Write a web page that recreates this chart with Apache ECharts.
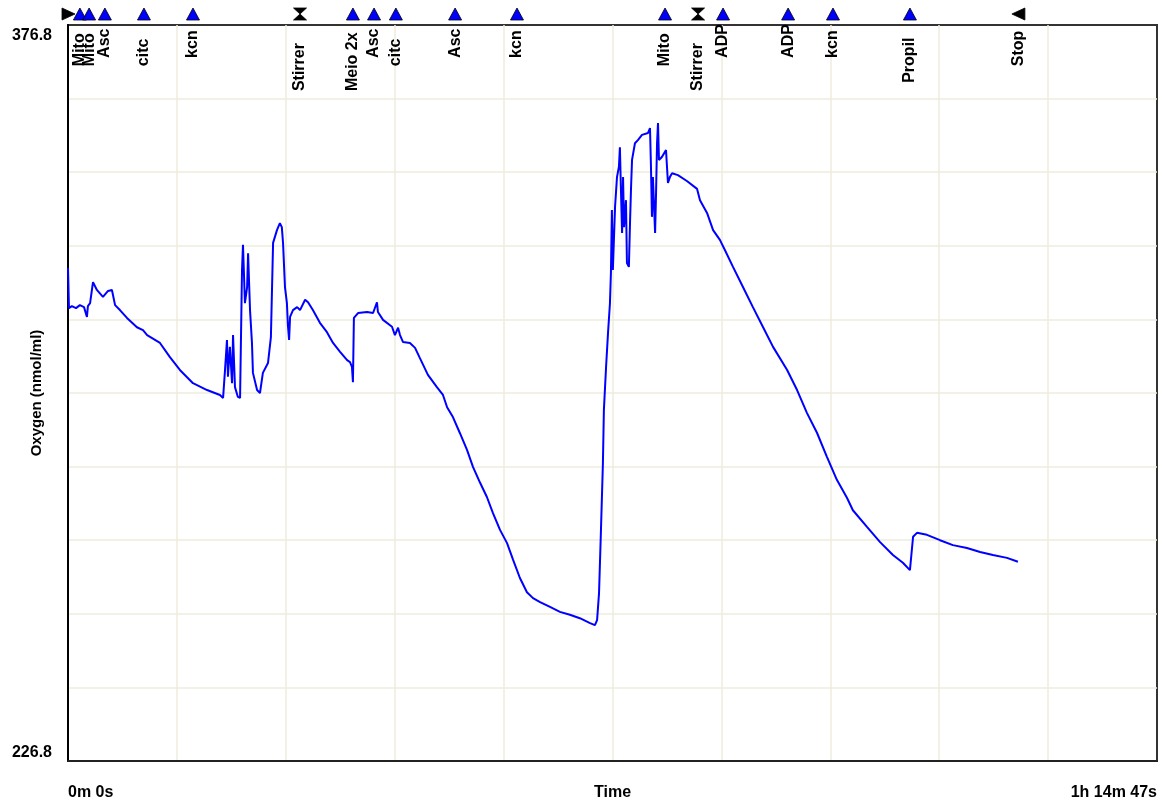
<!DOCTYPE html>
<html>
<head>
<meta charset="utf-8">
<script src="https://cdn.jsdelivr.net/npm/echarts@6/dist/echarts.min.js"></script>
<style>
html,body{margin:0;padding:0;background:#fff;}
#chart{width:1167px;height:807px;}
</style>
</head>
<body>
<div id="chart"></div>
<script>
// ---- data (time in seconds, oxygen in nmol/ml) ----
const timeSec = [0,4,16,33,49,66,78,82,91,103,119,144,165,181,194,214,243,284,309,326,379,420,461,515,573,626,639,647,655,659,667,676,680,688,700,709,717,721,729,738,742,750,758,762,779,791,803,824,836,845,861,873,881,886,894,902,906,911,915,927,944,956,977,989,1009,1038,1067,1092,1121,1150,1162,1170,1174,1178,1195,1232,1257,1273,1277,1298,1335,1347,1360,1368,1380,1409,1430,1450,1483,1520,1545,1562,1586,1615,1644,1669,1698,1726,1751,1780,1809,1834,1862,1891,1916,1945,1986,2027,2068,2109,2151,2171,2180,2188,2196,2204,2208,2217,2225,2233,2237,2241,2245,2254,2262,2270,2274,2278,2283,2287,2291,2299,2303,2311,2316,2320,2324,2336,2349,2365,2390,2398,2402,2406,2410,2419,2423,2427,2431,2435,2447,2464,2468,2472,2480,2489,2513,2550,2592,2604,2633,2658,2686,2707,2740,2781,2822,2864,2905,2963,3004,3045,3086,3127,3168,3210,3234,3292,3346,3399,3440,3469,3473,3482,3498,3539,3593,3646,3704,3758,3811,3869,3914];
const oxygen = [327.3,319.1,319.5,319.1,319.7,319.3,317.3,319.5,320.1,324.4,322.8,321.4,322.6,322.8,319.7,318.7,317.1,315.2,314.6,313.6,312.0,309.1,306.5,303.8,302.4,301.4,300.8,306.5,312.6,305.1,311.2,303.8,313.6,303.0,301.0,300.8,326.9,332.0,320.1,323.4,330.3,318.7,312.0,305.9,302.4,301.8,305.9,307.9,313.2,332.4,335.0,336.4,335.6,332.4,323.4,320.1,315.7,312.6,317.3,318.7,319.3,318.7,320.8,320.3,318.7,316.1,314.2,312.0,310.2,308.5,308.1,307.1,304.0,317.1,318.1,318.3,318.1,320.3,318.3,316.7,315.3,313.6,315.1,313.6,312.2,312.0,311.0,308.9,305.5,303.0,301.4,298.9,296.9,293.6,290.2,286.7,283.5,280.6,277.3,273.9,271.2,267.8,264.1,261.2,260.0,259.2,258.2,257.2,256.6,255.9,254.9,254.5,255.5,261.0,273.9,287.5,298.3,307.1,314.0,320.1,326.3,339.1,326.9,339.7,345.8,347.9,351.9,343.8,334.4,345.8,335.6,341.1,328.3,327.5,337.1,343.8,349.3,352.7,353.4,354.4,354.8,355.8,347.9,337.7,345.8,334.4,342.6,352.7,356.8,349.3,349.9,351.3,347.9,344.6,345.8,346.6,346.2,345.0,343.4,341.1,338.5,335.0,333.0,330.9,327.5,323.4,319.3,315.2,311.2,306.5,302.4,297.7,293.7,288.8,284.1,280.4,277.9,274.5,271.4,268.8,267.2,265.7,265.3,272.5,273.3,272.9,271.8,270.8,270.2,269.4,268.8,268.2,267.4];

const eventTimes  = [0, 49, 87, 152, 313, 515, 956, 1174, 1261, 1351, 1595, 1850, 2460, 2596, 2699, 2967, 3152, 3469, 3918];
const eventLabels = ['', 'Mito', 'Mito', 'Asc', 'citc', 'kcn', 'Stirrer', 'Meio 2x', 'Asc', 'citc', 'Asc', 'kcn', 'Mito', 'Stirrer', 'ADP', 'ADP', 'kcn', 'Propil', 'Stop'];
const eventKinds  = ['start','add','add','add','add','add','stirrer','add','add','add','add','add','add','stirrer','add','add','add','add','stop'];

const X_MIN = 0, X_MAX = 4487;          // 0m 0s .. 1h 14m 47s
const Y_MIN = 226.8, Y_MAX = 376.8;
const xTickLabels = ['0m 0s', '1h 14m 47s'];
const yTickLabels = ['226.8', '376.8'];
const xTitle = 'Time';
const yTitle = 'Oxygen (nmol/ml)';

// ---- chart ----
const FONT = 'Liberation Sans, Arial, sans-serif';
const chart = echarts.init(document.getElementById('chart'), null, {renderer: 'canvas'});

const lineData = timeSec.map((t, i) => [t, oxygen[i]]);

function renderEvent(params, api) {
  const t = api.value(0);
  const p = api.coord([t, Y_MAX]);
  const x = p[0], top = p[1];
  const cy = top - 11;
  const kind = eventKinds[params.dataIndex];
  const label = eventLabels[params.dataIndex];
  const children = [];
  let pts, fill = '#0000ff';
  if (kind === 'add') {
    pts = [[x - 6.5, cy + 6], [x + 6.5, cy + 6], [x, cy - 6]];
  } else if (kind === 'stirrer') {
    pts = [[x - 6.5, cy - 6], [x + 6.5, cy - 6], [x, cy], [x + 6.5, cy + 6], [x - 6.5, cy + 6], [x, cy]];
    fill = '#000';
  } else if (kind === 'start') {
    pts = [[x - 6, cy - 6], [x + 7, cy], [x - 6, cy + 6]];
    fill = '#000';
  } else {
    pts = [[x + 6, cy - 6], [x - 7, cy], [x + 6, cy + 6]];
    fill = '#000';
  }
  children.push({
    type: 'polygon',
    shape: {points: pts},
    style: {fill: fill, stroke: '#000', lineWidth: 0.8}
  });
  if (label) {
    children.push({
      type: 'text',
      x: x,
      y: top + 8 + label.length * 8.3,
      rotation: Math.PI / 2,
      style: {
        text: label,
        font: 'bold 16px ' + FONT,
        fill: '#000',
        align: 'left',
        verticalAlign: 'middle'
      }
    });
  }
  return {type: 'group', children: children};
}

const option = {
  animation: false,
  backgroundColor: '#ffffff',
  grid: {
    left: 68, right: 10, top: 25, bottom: 46,
    containLabel: false,
    outerBoundsMode: 'none',
    show: true, borderColor: '#333', borderWidth: 2, backgroundColor: 'transparent'
  },
  xAxis: {
    type: 'value',
    min: X_MIN, max: X_MAX,
    interval: (X_MAX - X_MIN) / 10,
    name: xTitle,
    nameLocation: 'middle',
    nameGap: 24,
    nameMoveOverlap: false,
    nameTextStyle: {fontFamily: FONT, fontWeight: 'bold', fontSize: 16, color: '#000'},
    axisLine: {show: true, lineStyle: {color: '#222', width: 2}},
    axisTick: {show: false},
    splitLine: {show: true, showMinLine: false, showMaxLine: false, lineStyle: {color: '#efebdc', width: 1.5}},
    axisLabel: {
      margin: 24,
      fontFamily: FONT, fontWeight: 'bold', fontSize: 16, color: '#000',
      showMinLabel: true, showMaxLabel: true,
      alignMinLabel: 'left', alignMaxLabel: 'right',
      formatter: function (v) {
        if (Math.abs(v - X_MIN) < 1) return xTickLabels[0];
        if (Math.abs(v - X_MAX) < 1) return xTickLabels[1];
        return '';
      }
    }
  },
  yAxis: {
    type: 'value',
    min: Y_MIN, max: Y_MAX,
    interval: (Y_MAX - Y_MIN) / 10,
    name: yTitle,
    nameLocation: 'middle',
    nameGap: 24,
    nameMoveOverlap: false,
    nameTextStyle: {fontFamily: FONT, fontWeight: 'bold', fontSize: 15, color: '#000'},
    axisLine: {show: true, lineStyle: {color: '#000', width: 2}},
    axisTick: {show: false},
    splitLine: {show: true, showMinLine: false, showMaxLine: false, lineStyle: {color: '#efebdc', width: 1.5}},
    axisLabel: {
      margin: 16,
      showMinLabel: true, showMaxLabel: true,
      formatter: function (v) {
        if (Math.abs(v - Y_MAX) < 0.01) return '{t|' + yTickLabels[1] + '}';
        if (Math.abs(v - Y_MIN) < 0.01) return '{b|' + yTickLabels[0] + '}';
        return '';
      },
      rich: {
        t: {fontFamily: FONT, fontWeight: 'bold', fontSize: 16, color: '#000', padding: [22, 0, 0, 0]},
        b: {fontFamily: FONT, fontWeight: 'bold', fontSize: 16, color: '#000', padding: [0, 0, 16, 0]}
      }
    }
  },
  series: [
    {
      type: 'line',
      data: lineData,
      showSymbol: false,
      symbol: 'none',
      clip: true,
      lineStyle: {color: '#0000ff', width: 2},
      z: 3
    },
    {
      type: 'custom',
      data: eventTimes.map(t => [t]),
      renderItem: renderEvent,
      clip: false,
      silent: true,
      z: 5
    }
  ]
};
chart.setOption(option);
</script>
</body>
</html>
